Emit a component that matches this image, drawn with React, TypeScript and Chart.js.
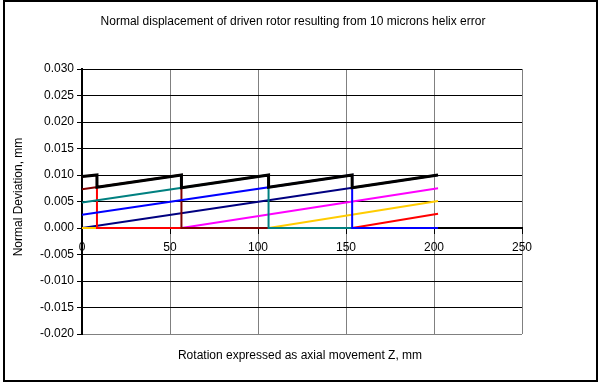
import React, { useEffect, useRef } from "react";
import { Chart, registerables } from "chart.js";
Chart.register(...registerables);

const TITLE = "Normal displacement of driven rotor resulting from 10 microns helix error";
const X_TITLE = "Rotation expressed as axial movement Z, mm";
const Y_TITLE = "Normal Deviation, mm";

const X_MIN = 0;
const X_MAX = 250;
const X_STEP = 50;
const Y_MIN = -0.02;
const Y_MAX = 0.03;
const Y_STEP = 0.005;

// Envelope (max of all contact lines), thick black
const envelopeX = [0, 8.5, 8.5, 56.5, 56.5, 106, 106, 153.5, 153.5, 202.3];
const envelopeY = [0.0097, 0.01, 0.0077, 0.01, 0.0076, 0.01, 0.0077, 0.01, 0.0076, 0.01];

const redX = [0, 8.5, 8.5, 153.5, 202.3];
const redY = [0.0097, 0.01, 0, 0, 0.0027];
const maroonX = [0, 56.5, 56.5, 202.3];
const maroonY = [0.0073, 0.01, 0, 0];
const tealX = [0, 106, 106, 202.3];
const tealY = [0.0048, 0.01, 0, 0];
const blueX = [0, 153.5, 153.5, 202.3];
const blueY = [0.0025, 0.01, 0, 0];
const navyX = [0, 202.3];
const navyY = [0, 0.01];
const magentaX = [0, 56.5, 202.3];
const magentaY = [0, 0, 0.0075];
const orangeX = [0, 106, 202.3];
const orangeY = [0, 0, 0.0051];

const FONT = '"Liberation Sans", Arial, sans-serif';

const framePlugin = {
  id: "frame",
  afterDraw(chart: any) {
    const ctx = chart.ctx;
    ctx.save();
    ctx.strokeStyle = "#000";
    ctx.lineWidth = 2;
    ctx.strokeRect(4, 1, 593, 380);
    ctx.fillStyle = "#000";
    ctx.font = "12px " + FONT;
    ctx.textAlign = "center";
    ctx.textBaseline = "alphabetic";
    ctx.fillText(TITLE, 293, 25);
    ctx.fillText(X_TITLE, 300, 359);
    ctx.translate(22, 197);
    ctx.rotate(-Math.PI / 2);
    ctx.fillText(Y_TITLE, 0, 0);
    ctx.restore();
  },
};

function pts(xs: number[], ys: number[]) {
  return xs.map((x, i) => ({ x, y: ys[i] }));
}

function line(label: string, xs: number[], ys: number[], color: string, width: number) {
  return {
    label,
    data: pts(xs, ys),
    borderColor: color,
    backgroundColor: color,
    borderWidth: width,
    showLine: true,
    pointRadius: 0,
    pointHoverRadius: 0,
    fill: false,
    tension: 0,
  };
}

export default function App() {
  const ref = useRef<HTMLCanvasElement>(null);
  useEffect(() => {
    document.body.style.margin = "0";
    const chart = new Chart(ref.current as HTMLCanvasElement, {
      type: "scatter",
      data: {
        datasets: [
          line("Envelope", envelopeX, envelopeY, "#000000", 3),
          line("Blue", blueX, blueY, "#0000FF", 2),
          line("Teal", tealX, tealY, "#008080", 2),
          line("Maroon", maroonX, maroonY, "#800000", 2),
          line("Red", redX, redY, "#FF0000", 2),
          line("Orange", orangeX, orangeY, "#FFCC00", 2),
          line("Navy", navyX, navyY, "#000080", 2),
          line("Magenta", magentaX, magentaY, "#FF00FF", 2),
        ] as any,
      },
      options: {
        responsive: false,
        animation: false,
        devicePixelRatio: 1,
        layout: { padding: { left: 0, top: 69, right: 79, bottom: 48 } },
        plugins: {
          legend: { display: false },
          tooltip: { enabled: false },
          title: { display: false },
        },
        scales: {
          x: {
            type: "linear",
            position: { y: 0 } as any,
            min: X_MIN,
            max: X_MAX,
            ticks: {
              stepSize: X_STEP,
              color: "#000",
              font: { family: FONT, size: 12 },
              padding: 7,
              maxRotation: 0,
              autoSkip: false,
            },
            grid: { color: "#808080", lineWidth: 1, tickLength: 5, tickColor: "#000" },
            border: { color: "#000", width: 2 },
          },
          y: {
            type: "linear",
            position: "left",
            min: Y_MIN,
            max: Y_MAX,
            afterFit: (s: any) => {
              s.width = 82;
            },
            ticks: {
              stepSize: Y_STEP,
              color: "#000",
              font: { family: FONT, size: 12 },
              padding: 3,
              autoSkip: false,
              callback: (v: any) => Number(v).toFixed(3),
            },
            grid: {
              color: (c: any) => (c.tick && Math.abs(c.tick.value - Y_MIN) < 1e-9 ? "#808080" : "#000"),
              lineWidth: 1,
              tickLength: 5,
              tickColor: "#000",
            },
            border: { color: "#000", width: 2 },
          },
        },
      } as any,
      plugins: [framePlugin],
    });
    return () => chart.destroy();
  }, []);
  return (
    <div style={{ width: 601, height: 382, background: "#fff" }}>
      <canvas ref={ref} width={601} height={382} style={{ display: "block" }} />
    </div>
  );
}
